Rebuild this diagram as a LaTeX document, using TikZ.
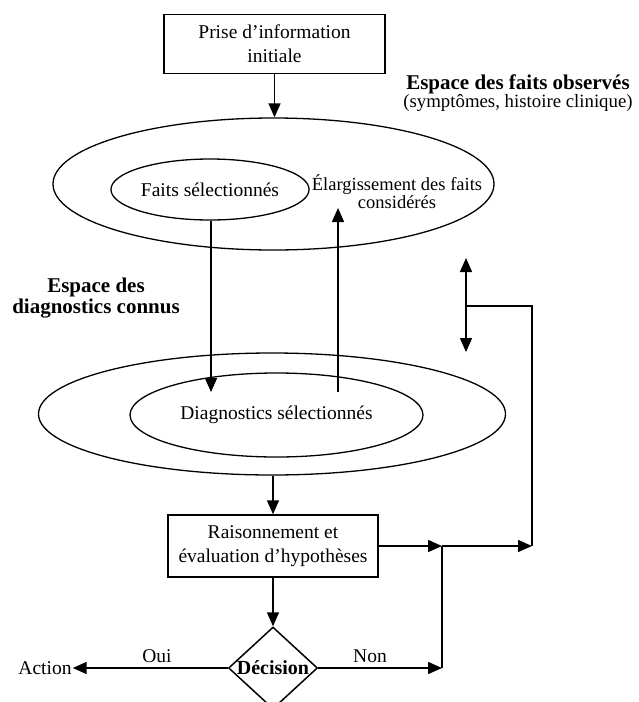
\documentclass[tikz,border=0pt]{standalone}
\usepackage{fontspec}
\setmainfont{Liberation Serif}
\usetikzlibrary{shapes.geometric,arrows.meta}
\begin{document}
\begin{tikzpicture}[x=1pt,y=-1pt,
  txt/.style={font=\fontsize{19.5}{24}\selectfont, align=center, inner sep=1pt},
  boxnode/.style={draw, line width=1.5pt, align=center, inner sep=0pt, font=\fontsize{19.5}{24}\selectfont},
  ell/.style={draw, ellipse, line width=1.3pt, inner sep=0pt},
  arr/.style={line width=1.5pt, -{Triangle[length=14pt,width=12pt]}},
  darr/.style={line width=1.5pt, {Triangle[length=14pt,width=12pt]}-{Triangle[length=14pt,width=12pt]}},
  ln/.style={line width=1.5pt}]
\useasboundingbox (0,0) rectangle (638,702);

% top box
\node[boxnode, minimum width=221pt, minimum height=59pt] (prise) at (274.5,44) {Prise d’information\\initiale};

% facts space
\node[ell, minimum width=441pt, minimum height=132pt] (outer1) at (273.5,184) {};
\draw[arr] (prise.south) -- (prise.south |- outer1.north);
\node[ell, minimum width=178pt, minimum height=61pt, txt] (inner1) at (210,189.5) {Faits sélectionnés};
\node[txt, font=\fontsize{18.5}{14}\selectfont] (elarg) at (397,192) {Élargissement des faits\\considérés};
\node[txt, font=\fontsize{18.8}{17}\selectfont] (faitsobs) at (518,93) {{\fontsize{21}{17}\selectfont\bfseries Espace des faits observés}\\(symptômes, histoire clinique)};

% diagnostics space
\node[txt, font=\fontsize{21}{21}\selectfont\bfseries] (diaglbl) at (96,298) {Espace des\\diagnostics connus};
\node[ell, minimum width=467pt, minimum height=122pt] (outer2) at (272,414) {};
\node[ell, minimum width=293pt, minimum height=84pt, txt] (inner2) at (276.5,415) {Diagnostics sélectionnés};

% vertical arrows between spaces
\coordinate (dtip) at (211,392);
\coordinate (ubase) at (338,392);
\coordinate (utip) at (338,208);
\draw[arr] (inner1.south -| dtip) -- (dtip);
\draw[arr] (ubase) -- (utip);

% double arrow
\coordinate (dtop) at (466,258);
\coordinate (dbot) at (466,352);
\coordinate (dmid) at (466,306);
\draw[darr] (dtop) -- (dbot);

% reasoning box
\node[boxnode, minimum width=210pt, minimum height=62pt] (raison) at (273,546) {Raisonnement et\\évaluation d’hypothèses};
\draw[arr] (outer2.south -| raison.north) -- (raison.north);

% decision
\node[draw, diamond, line width=1.5pt, minimum width=89pt, minimum height=82pt, inner sep=0pt] (dec) at (273,668) {};
\node[txt, font=\fontsize{20}{24}\selectfont\bfseries, inner sep=0pt] (dect) at (dec.center) {Décision};
\draw[arr] (raison.south) -- (dec.north);

% junctions and feedback
\coordinate (j) at (442,546);
\coordinate (jb) at (442,668);
\coordinate (c) at (532,546);
\coordinate (ct) at (532,306);
\draw[arr] (raison.east) -- (j);
\draw[arr] (j) -- (c);
\draw[ln] (c) -- (ct) -- (dmid);
\draw[ln] (j) -- (jb);
\draw[arr] (dec.east) -- (jb);

% action
\node[txt] (action) at (45,668) {Action};
\draw[arr] (dec.west) -- (action.east);
\node[txt] (oui) at (157,656) {Oui};
\node[txt] (non) at (370,656) {Non};
\end{tikzpicture}
\end{document}
